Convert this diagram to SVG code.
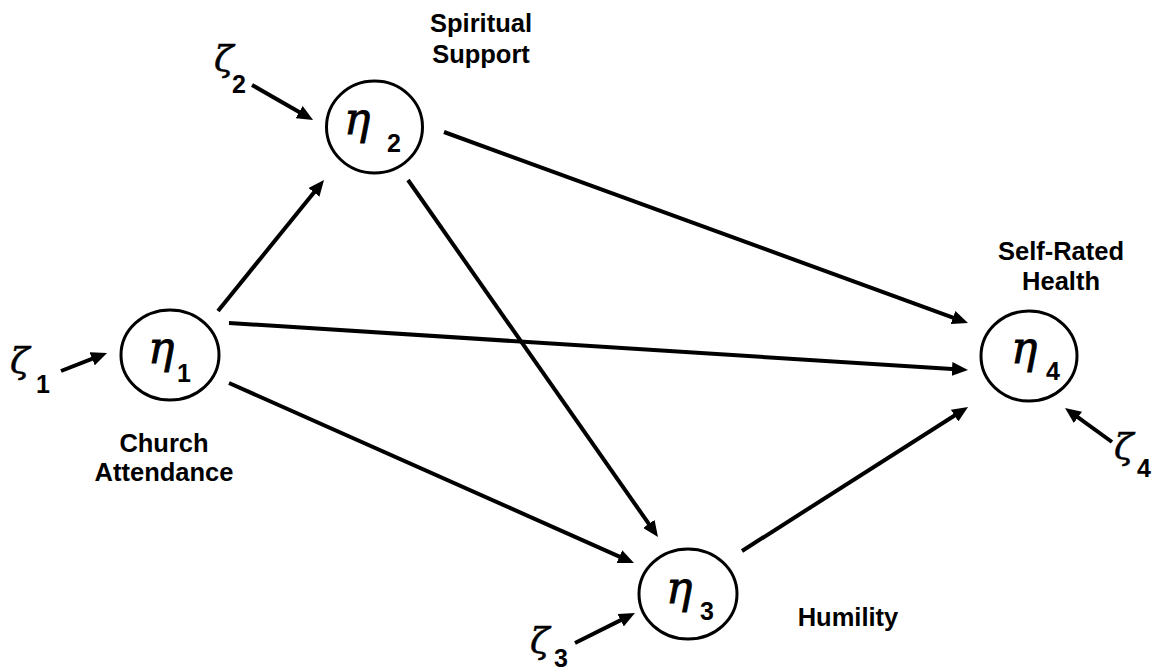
<svg xmlns="http://www.w3.org/2000/svg" width="1164" height="670" viewBox="0 0 1164 670">
<defs>
<marker id="ah" viewBox="0 0 16 14" refX="8" refY="7" markerWidth="16" markerHeight="14" markerUnits="userSpaceOnUse" orient="auto">
<path d="M0,0 L16,7 L0,14 Z" fill="#000"/>
</marker>
</defs>
<style>
.node{fill:#fff;stroke:#000;stroke-width:3}
.edge{stroke:#000;stroke-width:4;fill:none;marker-end:url(#ah)}
.greek{font-family:"DejaVu Serif","Liberation Serif",serif;font-style:italic;font-size:44px;fill:#000;stroke:#000;stroke-width:0.8}
.zeta{font-family:"DejaVu Serif","Liberation Serif",serif;font-style:italic;font-size:36px;fill:#000;stroke:#000;stroke-width:0.5}
.sub{font-family:"Liberation Sans",Arial,sans-serif;font-weight:bold;font-size:25px;fill:#000}
.lbl{font-family:"Liberation Sans",Arial,sans-serif;font-weight:bold;font-size:25.5px;fill:#000;text-anchor:middle}
</style>
<rect width="1164" height="670" fill="#fff"/>
<g id="connectors">
<line class="edge" x1="218" y1="311" x2="319" y2="186.2"/>
<line class="edge" x1="229" y1="323" x2="960" y2="369.5"/>
<line class="edge" x1="229" y1="383" x2="626.7" y2="559.8"/>
<line class="edge" x1="444" y1="132" x2="960.5" y2="320.3"/>
<line class="edge" x1="408" y1="180" x2="653.4" y2="530.4"/>
<line class="edge" x1="742" y1="551" x2="961.3" y2="411.3"/>
<line class="edge" x1="61" y1="371" x2="99.6" y2="355.9"/>
<line class="edge" x1="252" y1="85" x2="306.1" y2="116"/>
<line class="edge" x1="575" y1="643" x2="627.8" y2="616.6"/>
<line class="edge" x1="1112" y1="442" x2="1071.5" y2="412.7"/>
</g>
<g id="eta1">
<ellipse class="node" cx="170" cy="355" rx="49" ry="45"/>
<text class="greek" x="148" y="363">η</text>
<text class="sub" x="177" y="382">1</text>
<text class="lbl" x="164" y="452">Church</text>
<text class="lbl" x="164" y="481">Attendance</text>
</g>
<g id="eta2">
<ellipse class="node" cx="374.5" cy="127" rx="48" ry="46"/>
<text class="greek" x="344" y="134">η</text>
<text class="sub" x="387" y="152">2</text>
<text class="lbl" x="481" y="32">Spiritual</text>
<text class="lbl" x="481" y="63">Support</text>
</g>
<g id="eta3">
<ellipse class="node" cx="688" cy="594" rx="49" ry="45"/>
<text class="greek" x="666" y="603">η</text>
<text class="sub" x="700" y="620">3</text>
<text class="lbl" x="848" y="626">Humility</text>
</g>
<g id="eta4">
<ellipse class="node" cx="1029" cy="356" rx="48" ry="45"/>
<text class="greek" x="1011" y="363">η</text>
<text class="sub" x="1046" y="380">4</text>
<text class="lbl" x="1061" y="260">Self-Rated</text>
<text class="lbl" x="1061" y="290">Health</text>
</g>
<g id="zeta1">
<text class="zeta" x="10" y="373">ζ</text>
<text class="sub" x="36" y="393">1</text>
</g>
<g id="zeta2">
<text class="zeta" x="214" y="71">ζ</text>
<text class="sub" x="232" y="93">2</text>
</g>
<g id="zeta3">
<text class="zeta" x="530" y="653">ζ</text>
<text class="sub" x="554" y="667">3</text>
</g>
<g id="zeta4">
<text class="zeta" x="1114" y="459">ζ</text>
<text class="sub" x="1137" y="477">4</text>
</g>
</svg>
